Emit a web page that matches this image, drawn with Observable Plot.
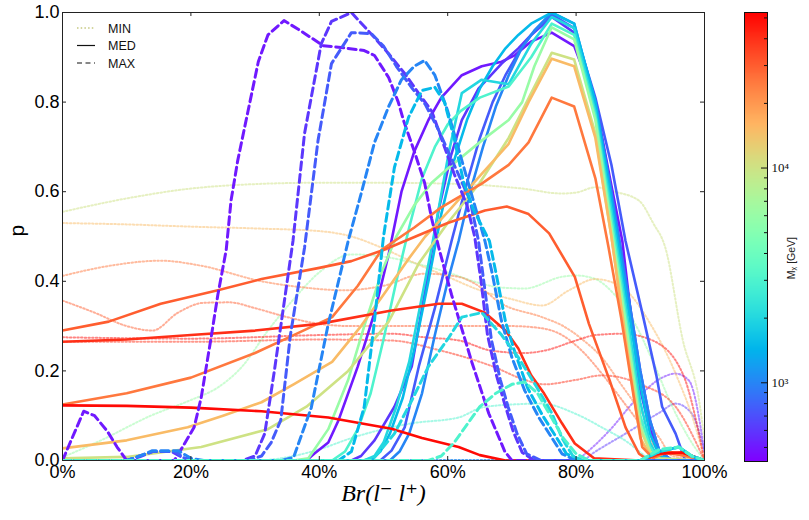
<!DOCTYPE html>
<html>
<head>
<meta charset="utf-8">
<script src="https://cdn.jsdelivr.net/npm/d3@7"></script>
<script src="https://cdn.jsdelivr.net/npm/@observablehq/plot@0.6"></script>
<style>
  body { margin: 0; background: #fff; }
  #chart { position: relative; width: 809px; height: 520px; background: #fff; overflow: hidden; }
  #chart > svg, #chart > div { position: absolute; }
</style>
</head>
<body>
<div id="chart"></div>
<script>
// Dark-matter masses (GeV), one entry per curve family
const masses = [500, 600, 750, 1000, 1500, 2000, 3000, 6000, 10000, 15000, 25000, 30000, 40000, 50000];

// MED curves (solid): [Br in %, p]
const medCurves = [
  [[0,0],[38,0],[39.2,0.015],[41.4,0.04],[43,0.09],[46,0.21],[48.6,0.33],[50.8,0.46],[52.8,0.6],[54.8,0.69],[57,0.76],[59,0.81],[62.2,0.86],[65.3,0.88],[68.4,0.89],[70.5,0.905],[73,0.935],[76.2,0.955],[79.7,0.925],[83,0.8],[85,0.65],[87.2,0.49],[89.8,0.17],[91.5,0.07],[93,0.02],[95,0],[100,0]],
  [[0,0],[45,0],[46.5,0.01],[48.6,0.045],[51.7,0.12],[54.4,0.21],[56.5,0.38],[58.6,0.56],[60.5,0.68],[62.2,0.76],[64.8,0.83],[68.4,0.886],[71,0.92],[73,0.95],[76.2,0.99],[79.7,0.955],[83,0.8],[85.5,0.6],[88,0.38],[90,0.2],[91.5,0.09],[93,0.02],[95,0],[100,0]],
  [[0,0],[49.5,0],[51.25,0.022],[53.3,0.074],[55.5,0.21],[58,0.34],[60.6,0.49],[63,0.62],[65,0.72],[67,0.8],[69,0.86],[71,0.91],[73,0.95],[76.2,0.995],[79.7,0.965],[83,0.81],[85.5,0.66],[87.7,0.49],[90.3,0.33],[92.5,0.19],[93.4,0.12],[95.5,0.06],[97,0],[100,0]],
  [[0,0],[51,0],[52.5,0.02],[54,0.06],[56,0.15],[58,0.28],[60,0.4],[61.7,0.49],[63.5,0.6],[65.5,0.7],[67.5,0.79],[69.5,0.86],[71.5,0.92],[73.5,0.96],[76.2,1.0],[79.7,0.975],[83,0.8],[85.5,0.6],[88,0.38],[90,0.2],[91.5,0.09],[93,0.02],[95,0],[100,0]],
  [[0,0],[48,0],[49.5,0.02],[51,0.06],[53,0.14],[55,0.26],[57,0.4],[59,0.55],[61,0.67],[63,0.76],[65,0.83],[67,0.88],[69,0.92],[71,0.95],[73,0.975],[76.2,1.0],[79.7,0.975],[83,0.8],[85.5,0.58],[88,0.35],[90,0.17],[91.5,0.06],[93,0.01],[95,0],[100,0]],
  [[0,0],[47,0],[48.6,0.01],[50,0.04],[52,0.12],[54,0.22],[55.5,0.33],[57.5,0.475],[60.2,0.69],[62.2,0.82],[65.3,0.85],[69.5,0.84],[73,0.93],[76.2,0.99],[79.7,0.965],[83,0.78],[85.5,0.56],[88,0.32],[90,0.13],[91.5,0.04],[93,0],[100,0]],
  [[0,0],[42,0],[44,0.02],[46,0.07],[48,0.15],[50,0.27],[52,0.4],[54,0.52],[56,0.63],[58,0.7],[60,0.75],[62,0.78],[65,0.81],[69.5,0.835],[73,0.9],[76.2,0.975],[79.7,0.95],[83,0.77],[85.5,0.54],[88,0.3],[90,0.1],[91.5,0.03],[93,0],[100,0]],
  [[0,0],[36,0],[38.3,0.005],[41.4,0.07],[44.5,0.18],[47,0.3],[49.7,0.42],[52,0.5],[54.8,0.57],[57.5,0.62],[60.2,0.654],[65.3,0.714],[69.5,0.76],[71.6,0.8],[73.5,0.88],[76.2,0.967],[79.7,0.94],[83,0.76],[85.5,0.52],[88,0.28],[90,0.08],[91.5,0.02],[93,0],[100,0]],
  [[0,0.005],[10,0.008],[21.6,0.03],[32,0.07],[38,0.12],[44.5,0.2],[50.8,0.31],[55.5,0.44],[60,0.53],[65,0.62],[69.5,0.72],[73,0.82],[76.2,0.91],[79.7,0.895],[83,0.73],[85.5,0.5],[88,0.25],[90,0.07],[91.5,0.02],[93,0.005],[100,0]],
  [[0,0.027],[10,0.045],[19.5,0.074],[25,0.1],[31,0.13],[36,0.17],[42,0.22],[46.5,0.3],[50,0.37],[53.9,0.45],[56.5,0.5],[60.2,0.558],[65.3,0.64],[69.5,0.707],[72.6,0.8],[76.2,0.897],[79.7,0.88],[83,0.72],[85.5,0.5],[88,0.24],[90,0.05],[91.5,0.012],[94,0.02],[97,0.01],[100,0]],
  [[0,0.125],[10,0.15],[20,0.185],[30,0.24],[36,0.28],[42,0.32],[46,0.39],[49.7,0.47],[54.8,0.52],[59,0.565],[65.3,0.618],[69.5,0.66],[72.6,0.71],[76.2,0.81],[79.7,0.79],[83,0.63],[85,0.48],[87,0.32],[89,0.14],[90.3,0.03],[92,0.005],[94,0.018],[97,0.01],[100,0]],
  [[0,0.29],[7.2,0.31],[15.3,0.35],[24.2,0.38],[31,0.405],[40,0.43],[45,0.445],[50,0.47],[55,0.5],[60,0.53],[65.8,0.558],[69.2,0.567],[72.6,0.55],[75.8,0.507],[79.8,0.41],[82,0.305],[85.2,0.18],[87.7,0.074],[89.8,0.015],[91,0.003],[94,0.02],[97,0.015],[100,0]],
  [[0,0.265],[10,0.27],[20,0.28],[30,0.29],[40,0.305],[51.25,0.335],[58.6,0.35],[62.2,0.35],[65.8,0.33],[69,0.29],[71,0.25],[73,0.19],[75,0.15],[77.8,0.083],[79.8,0.038],[82.8,0.005],[90,0],[93,0.015],[96.6,0.018],[100,0]],
  [[0,0.123],[10,0.122],[20,0.118],[31,0.11],[41.4,0.096],[51.25,0.071],[56,0.05],[61.7,0.03],[65,0.012],[69,0],[90,0],[92.3,0.015],[96.6,0.018],[100,0]]
];

// MIN curves (dotted)
const minCurves = [
  [[0,0],[80,0],[81.4,0.015],[85.2,0.067],[89.2,0.134],[93.4,0.185],[95.5,0.194],[97.6,0.178],[100,0.02]],
  [[0,0],[81,0],[82.5,0.015],[87.7,0.06],[93,0.107],[95.5,0.127],[98,0.105],[100,0.02]],
  [[0,0],[100,0]],
  [[0,0],[100,0]],
  [[0,0],[100,0]],
  [[0,0],[100,0]],
  [[0,0],[30,0],[36,0.01],[40,0.025],[45,0.05],[50,0.07],[54.4,0.083],[61.7,0.096],[65.3,0.118],[70,0.125],[74.7,0.127],[79.8,0.105],[84,0.074],[88.3,0.038],[90.3,0.015],[92,0],[100,0]],
  [[0,0.007],[6,0.045],[13.75,0.1],[20,0.135],[24.2,0.163],[28,0.21],[32,0.29],[36,0.36],[40,0.42],[45,0.46],[50,0.455],[55,0.44],[60,0.42],[64,0.4],[68.4,0.386],[72,0.384],[77.8,0.41],[80,0.413],[83,0.405],[86,0.37],[89,0.31],[92,0.22],[95,0.12],[98,0.04],[100,0]],
  [[0,0.555],[10,0.585],[20,0.607],[30,0.617],[40,0.62],[50,0.62],[60,0.618],[65,0.615],[71.6,0.607],[77.8,0.596],[80,0.598],[83,0.61],[86,0.6],[89.8,0.58],[92,0.53],[93.9,0.475],[96.6,0.27],[99.2,0.13],[100,0.045]],
  [[0,0.53],[10,0.527],[20,0.522],[30,0.518],[40,0.512],[45,0.5],[49.7,0.475],[55,0.44],[60,0.41],[65,0.38],[70,0.36],[74.7,0.346],[78.9,0.38],[83,0.405],[87.2,0.386],[91.9,0.297],[95.5,0.194],[99.2,0.045],[100,0]],
  [[0,0.412],[7.5,0.435],[15.3,0.446],[21.5,0.435],[31,0.4],[37.7,0.386],[43.9,0.38],[50,0.39],[56.4,0.417],[61.7,0.41],[64.2,0.395],[68.4,0.35],[74.7,0.32],[78,0.3],[81,0.27],[84,0.23],[87,0.17],[90,0.11],[93,0.05],[95,0.01],[100,0]],
  [[0,0.357],[5,0.33],[10,0.3],[14,0.29],[18,0.33],[22,0.352],[26,0.353],[30,0.34],[35,0.32],[40,0.305],[45,0.3],[50,0.3],[55,0.3],[60,0.3],[65,0.3],[70,0.3],[74.7,0.295],[77.8,0.28],[80.9,0.245],[84,0.194],[87.2,0.134],[90.3,0.074],[92.3,0.03],[94,0.005],[100,0]],
  [[0,0.265],[20,0.265],[40,0.27],[51,0.268],[59,0.245],[67,0.21],[72,0.18],[75,0.17],[80,0.18],[84,0.19],[87,0.185],[90,0.17],[95.5,0.12],[100,0]],
  [[0,0.275],[20,0.272],[40,0.28],[51.25,0.283],[56.4,0.275],[61.7,0.268],[66.9,0.245],[72,0.24],[75,0.245],[80,0.268],[83,0.28],[87.2,0.283],[91.9,0.268],[96.6,0.194],[100,0]]
];

// MAX curves (dashed); the heavier masses stay at zero and are left out
const maxCurves = [
  [[0,0],[1.5,0.05],[3.3,0.11],[5,0.1],[7,0.065],[8.5,0.03],[10,0],[17.4,0],[18.7,0.03],[20.5,0.074],[21.6,0.14],[23.1,0.27],[24.2,0.37],[25.5,0.47],[26.25,0.58],[27.3,0.67],[28.9,0.78],[30.5,0.89],[32,0.95],[34.5,0.982],[37,0.96],[40.6,0.926],[43.4,0.922],[47,0.915],[48.6,0.904],[50.8,0.855],[52.3,0.8],[53.1,0.76],[54.8,0.69],[56.4,0.62],[57.5,0.54],[58.7,0.47],[60.6,0.37],[63.75,0.22],[66.4,0.105],[68.9,0.02],[70,0],[100,0]],
  [[0,0],[10,0],[12,0.008],[14,0.02],[17,0.02],[18.5,0.008],[20,0],[28,0],[30,0.01],[31.5,0.06],[33,0.2],[34.5,0.35],[35.9,0.49],[37.7,0.73],[40.3,0.93],[41.9,0.98],[45,1.0],[48.6,0.944],[50.8,0.908],[53.3,0.864],[55.5,0.819],[57.5,0.78],[59,0.72],[61,0.64],[63,0.57],[64.2,0.5],[65.2,0.4],[66.2,0.28],[67.6,0.19],[68.8,0.13],[70.2,0.065],[71.6,0.018],[73.5,0],[100,0]],
  [[0,0],[10,0],[12,0.01],[14,0.02],[17.5,0.02],[19,0.005],[21,0],[29,0],[31,0.01],[32.5,0.04],[34,0.09],[35.5,0.28],[37.7,0.475],[39.8,0.714],[41.9,0.886],[45,0.955],[48.1,0.953],[50,0.925],[52,0.88],[54.5,0.83],[56.5,0.795],[58.5,0.74],[61,0.66],[63.5,0.58],[64.8,0.49],[65.8,0.38],[66.8,0.27],[68.2,0.18],[69.4,0.12],[70.8,0.06],[72.3,0.015],[74.5,0],[100,0]],
  [[0,0],[10,0],[12,0.01],[14,0.022],[18,0.022],[20,0.005],[22,0],[34,0],[36,0.007],[38.75,0.118],[41.4,0.305],[44.5,0.49],[46.6,0.6],[48.6,0.71],[50.8,0.79],[52.8,0.85],[54.8,0.88],[56.4,0.893],[58,0.86],[60,0.78],[62,0.68],[64,0.58],[65.8,0.49],[66.9,0.42],[68.4,0.31],[70,0.23],[72,0.156],[74.2,0.096],[76.25,0.05],[77.8,0.015],[80,0],[100,0]],
  [[0,0],[43,0],[45,0.02],[47,0.12],[48.5,0.3],[50,0.5],[51.7,0.654],[53.9,0.766],[56,0.826],[58,0.833],[59.5,0.8],[61,0.72],[62.5,0.62],[64,0.56],[66.5,0.49],[67.5,0.42],[69,0.31],[70.5,0.24],[72.5,0.16],[74.8,0.1],[77,0.05],[78.5,0.015],[81,0],[90,0],[93,0.02],[96,0.03],[98,0.01],[100,0]],
  [[0,0],[47,0],[48.6,0.007],[51.7,0.06],[54.4,0.134],[57,0.21],[60.2,0.275],[62.2,0.32],[65.3,0.33],[68.4,0.28],[71,0.23],[73.6,0.17],[76.25,0.105],[77.8,0.05],[79.5,0.01],[81,0],[90,0],[93,0.02],[96,0.03],[98,0.01],[100,0]],
  [[0,0],[57,0],[59,0.01],[61,0.04],[63,0.08],[65,0.12],[67.5,0.15],[70,0.17],[72,0.175],[74,0.15],[76,0.1],[78,0.05],[80,0.015],[82,0],[90,0],[93,0.025],[96,0.03],[98,0.01],[100,0]],
  null, null, null, null, null, null, null
];

const xTicks = [0, 20, 40, 60, 80, 100];
const yTicks = [0, 0.2, 0.4, 0.6, 0.8, 1.0];
const cbMajor = [1000, 10000];
const cbMinor = [500, 600, 700, 800, 900, 2000, 3000, 4000, 5000, 6000, 7000, 8000, 9000, 20000, 30000, 40000, 50000];
const legendItems = ["MIN", "MED", "MAX"];

// matplotlib-style "rainbow" colormap
const rainbow = t => {
  const r = Math.min(1, Math.abs(2 * t - 0.5));
  const g = Math.sin(Math.PI * t);
  const b = Math.cos(Math.PI * t / 2);
  return d3.rgb(255 * r, 255 * g, 255 * b).formatHex();
};
const massDomain = [430, 53000];
const colorScale = {type: "log", domain: massDomain, interpolate: rainbow};

function toRows(curves, kind) {
  return curves.flatMap((pts, i) => pts == null ? [] :
    pts.map(([x, p]) => ({x, p, m: masses[i], key: kind + masses[i]})));
}
const minRows = toRows(minCurves, "min");
const medRows = toRows(medCurves, "med");
const maxRows = toRows(maxCurves, "max");

const W = 809, H = 520;
const mL = 62, mR = 105, mT = 12, mB = 60;
const fw = W - mL - mR, fh = H - mT - mB;
const sans = "'Liberation Sans', Arial, sans-serif";
const serif = "'Liberation Serif', 'DejaVu Serif', serif";

const main = Plot.plot({
  width: W, height: H,
  marginLeft: mL, marginRight: mR, marginTop: mT, marginBottom: mB,
  style: {fontFamily: sans, fontSize: "18px", color: "black", background: "white", overflow: "visible"},
  x: {domain: [0, 100], axis: null},
  y: {domain: [0, 1], axis: null},
  color: colorScale,
  marks: [
    Plot.line(minRows, {x: "x", y: "p", z: "key", stroke: "m", strokeWidth: 2, strokeOpacity: 0.5,
      strokeDasharray: "1.5 2.2", curve: "monotone-x", clip: true}),
    Plot.line(medRows, {x: "x", y: "p", z: "key", stroke: "m", strokeWidth: 2.6, clip: true}),
    Plot.line(maxRows, {x: "x", y: "p", z: "key", stroke: "m", strokeWidth: 3, strokeDasharray: "8 4.5", clip: true}),
    Plot.frame({stroke: "#222", strokeWidth: 1}),
    // inward ticks on all four sides
    Plot.tickX(xTicks, {x: d => d, insetTop: fh - 4, stroke: "#222"}),
    Plot.tickX(xTicks, {x: d => d, insetBottom: fh - 4, stroke: "#222"}),
    Plot.tickY(yTicks, {y: d => d, insetRight: fw - 4, stroke: "#222"}),
    Plot.tickY(yTicks, {y: d => d, insetLeft: fw - 4, stroke: "#222"}),
    Plot.axisX(xTicks, {tickSize: 0, tickPadding: 5, tickFormat: d => d + "%", fontSize: 18, label: null}),
    Plot.axisY(yTicks, {tickSize: 0, tickPadding: 3, tickFormat: d3.format(".1f"), fontSize: 18, label: null}),
    Plot.text(["p"], {text: d => d, frameAnchor: "left", dx: -45, rotate: -90, fontSize: 21}),
    Plot.text(["Br(l\u207B l\u207A)"], {text: d => d, frameAnchor: "bottom", dy: 40, fontSize: 24,
      fontFamily: serif, fontStyle: "italic"})
  ]
});

// colour bar on a log mass axis
const nb = 460;
const lo = Math.log10(massDomain[0]), hi = Math.log10(massDomain[1]);
const bands = d3.range(nb).map(i => ({
  y1: 10 ** (lo + (hi - lo) * i / nb),
  y2: 10 ** (lo + (hi - lo) * (i + 1) / nb),
  v: 10 ** (lo + (hi - lo) * (i + 0.5) / nb)
}));
const cbW = 80, cbLeft = 730;
const cbar = Plot.plot({
  width: cbW, height: H,
  marginLeft: 14, marginRight: cbW - 14 - 23, marginTop: 12, marginBottom: H - 461,
  style: {fontFamily: serif, background: "transparent", overflow: "visible"},
  x: {domain: [0, 1], axis: null},
  y: {type: "log", domain: massDomain, axis: null},
  color: colorScale,
  marks: [
    Plot.rect(bands, {x1: 0, x2: 1, y1: "y1", y2: "y2", fill: "v", shapeRendering: "crispEdges"}),
    Plot.frame({stroke: "#111", strokeWidth: 1}),
    Plot.tickY(cbMajor, {y: d => d, insetLeft: 17, stroke: "#111"}),
    Plot.tickY(cbMinor, {y: d => d, insetLeft: 20, stroke: "#111"}),
    Plot.text(cbMajor, {y: d => d, text: d => "10" + (d === 1000 ? "\u00B3" : "\u2074"), frameAnchor: "right",
      dx: 4, textAnchor: "start", fontSize: 13, fill: "#111"}),
    Plot.text(["M\u1D6A [GeV]"], {text: d => d, frameAnchor: "right", dx: 24, rotate: -90, fontSize: 10.5,
      fontFamily: sans, fill: "#222"})
  ]
});

// line-style key in the upper-left corner
const legend = d3.create("svg").attr("width", 90).attr("height", 60);
const styles = [
  {dash: "1.5 2.2", color: "#d4d6a0", width: 1.8},
  {dash: null, color: "#111", width: 1.2},
  {dash: "5 3.5", color: "#111", width: 1.2}
];
legendItems.forEach((name, i) => {
  const y = 10 + i * 17.5;
  legend.append("line").attr("x1", 7).attr("x2", 25).attr("y1", y).attr("y2", y)
    .attr("stroke", styles[i].color).attr("stroke-width", styles[i].width)
    .attr("stroke-dasharray", styles[i].dash);
  legend.append("text").attr("x", 38).attr("y", y + 4.5).text(name)
    .attr("font-family", sans).attr("font-size", 12.5).attr("fill", "#111");
});

const chart = document.getElementById("chart");
main.style.left = "0px"; main.style.top = "0px";
chart.appendChild(main);
cbar.style.left = cbLeft + "px"; cbar.style.top = "0px";
chart.appendChild(cbar);
const lg = legend.node();
lg.style.left = "70px"; lg.style.top = "18px";
chart.appendChild(lg);
</script>
</body>
</html>
